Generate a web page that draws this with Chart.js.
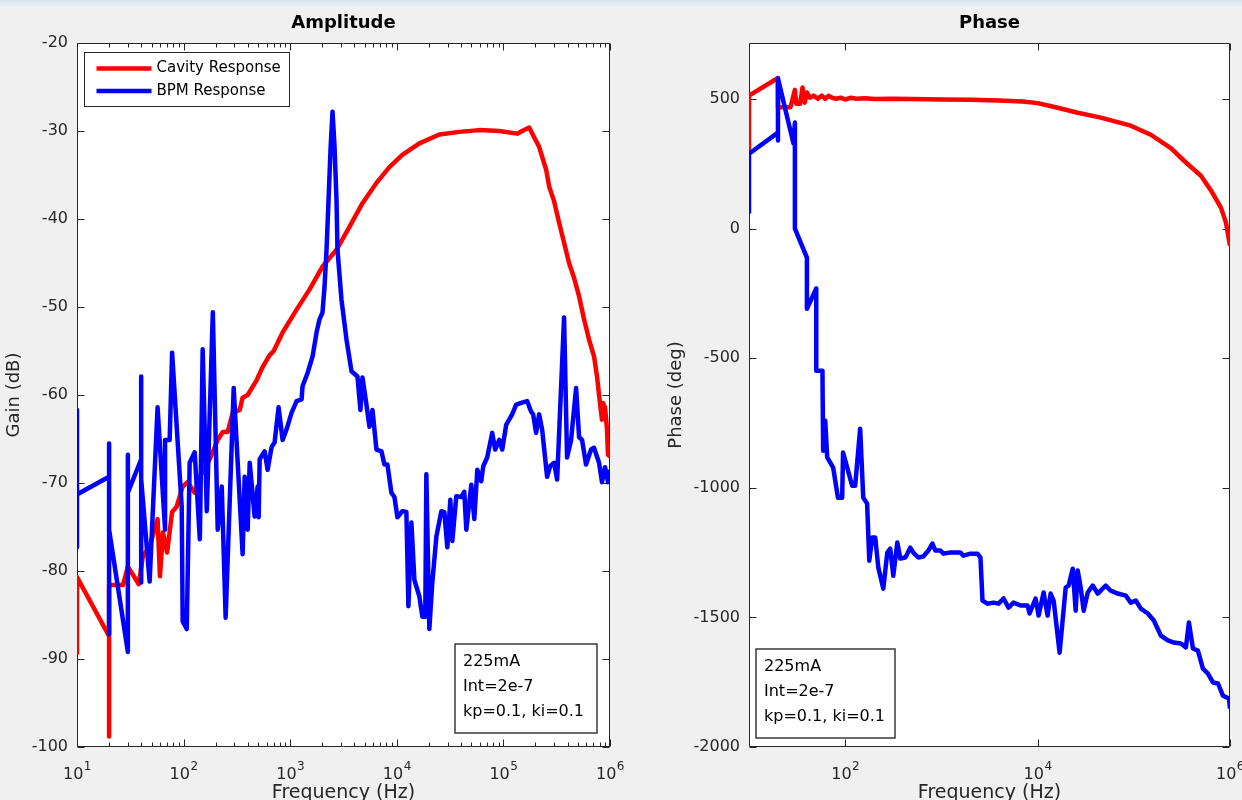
<!DOCTYPE html>
<html><head><meta charset="utf-8">
<script src="https://cdn.jsdelivr.net/npm/chart.js@4.4.1/dist/chart.umd.min.js"></script>
<style>
html,body{margin:0;padding:0;background:#f0f0f0;width:1242px;height:800px;overflow:hidden;}
#topbar{position:absolute;left:0;top:0;width:1242px;height:6px;background:linear-gradient(#d8e3f0,#e6edf5);}
#c1{position:absolute;left:0;top:0;}
#c2{position:absolute;left:620px;top:0;}
</style></head><body>
<div id="topbar"></div>
<canvas id="c1" width="640" height="800"></canvas>
<canvas id="c2" width="622" height="800"></canvas>
<script>
// ---------- DATA ----------
const seriesNames = ['Cavity Response', 'BPM Response'];
const noteLines = ['225mA', 'Int=2e-7', 'kp=0.1, ki=0.1'];

const ampXTicks = [10, 100, 1000, 10000, 100000, 1000000];
const ampXTickLabels = ['10^1', '10^2', '10^3', '10^4', '10^5', '10^6'];
const ampYTicks = [-100, -90, -80, -70, -60, -50, -40, -30, -20];
const phaseXTicks = [100, 10000, 1000000];
const phaseXTickLabels = ['10^2', '10^4', '10^6'];
const phaseYTicks = [-2000, -1500, -1000, -500, 0, 500];

const ampCavityFreq = [10,10,20,20,20,27,30,38,41.5,48,57,60,64,70,78,86,98,109,127,142,176,209,233,259,289,336,358,399,485,552,640,700,849,1148,1520,2010,2718,3597,4764,6442,8530,11270,16290,25060,38550,59300,91400,134600,150000,174600,194100,216300,251700,268500,299200,332800,370800,413000,460300,512900,571000,635700,708000,755500,805400,841000,860000,900000,937000,958000,1000000];
const ampCavityGain = [-89.5,-80.7,-87.4,-98.8,-81.6,-81.6,-79.5,-81.5,-78.3,-77.2,-74.1,-80.6,-75.6,-77.9,-73.3,-72.7,-70.4,-69.9,-71.1,-69.3,-67.3,-65.1,-64.2,-64.2,-62.0,-61.7,-60.3,-60.0,-58.3,-56.8,-55.5,-55.0,-52.9,-50.3,-48.0,-45.4,-43.5,-40.9,-38.2,-35.9,-34.1,-32.7,-31.4,-30.4,-30.1,-29.9,-30.0,-30.3,-30.0,-29.6,-30.7,-31.8,-34.4,-36.3,-38.0,-40.4,-42.7,-45.0,-46.7,-48.8,-51.4,-53.7,-55.6,-57.9,-60.9,-62.8,-60.9,-61.5,-63.9,-66.8,-67.0];

const ampBpmFreq = [10,10,10,20,20,20,20,30,30,30,40,40,40,40,48,57,67,67,74,78,96,98,107,114,127,142,151,165,188,209,228,248,295,358,374,399,417,464,495,506,517,576,614,669,714,778,849,925,1031,1148,1279,1306,1455,1622,1766,1884,2010,2099,2192,2290,2389,2495,2606,2718,2777,3029,3374,3758,4276,4560,4764,5190,5536,5913,6442,7178,7656,8166,8895,9506,10140,11270,12300,12850,13710,14620,16290,17380,18500,18930,20190,21540,23500,26180,27930,29790,31770,33190,36140,40270,42960,44870,50000,53350,56900,62000,64710,70500,78520,83750,91400,97500,106200,113300,120800,131800,146800,167100,182000,190100,202800,216300,230700,257000,274200,299200,319200,370800,395500,431500,480800,512900,547000,596000,664000,708000,789000,841000,898000,958000,1000000];
const ampBpmGain = [-61.7,-77.3,-71.3,-69.3,-65.5,-87.2,-75.3,-89.2,-66.8,-71.1,-67.3,-57.9,-81.3,-69.6,-81.2,-61.4,-75.3,-65.1,-65.1,-55.2,-72.7,-85.7,-86.6,-67.7,-66.5,-76.4,-54.8,-73.2,-50.6,-75.3,-70.4,-85.3,-59.2,-78.1,-69.3,-75.3,-67.7,-73.8,-70.4,-73.9,-67.3,-66.4,-68.5,-65.9,-65.4,-61.4,-65.1,-63.9,-62.0,-60.7,-60.5,-59.0,-57.5,-55.6,-52.9,-51.4,-50.6,-47.7,-43.5,-37.8,-32.1,-27.8,-31.8,-37.8,-43.5,-49.2,-53.7,-57.3,-57.9,-61.7,-58.0,-61.1,-63.6,-61.7,-66.2,-66.4,-67.9,-67.9,-71.1,-71.6,-73.9,-73.2,-73.3,-84.0,-74.5,-81.0,-82.9,-85.2,-85.2,-69.0,-86.6,-81.3,-76.1,-73.2,-73.3,-77.3,-71.9,-76.6,-71.5,-71.6,-71.0,-75.3,-70.2,-74.1,-68.5,-69.8,-68.1,-67.1,-64.3,-66.2,-65.1,-66.2,-63.4,-62.8,-62.2,-61.1,-60.9,-60.7,-61.9,-62.2,-64.3,-62.2,-63.9,-69.3,-68.1,-67.7,-69.6,-51.2,-67.1,-65.1,-59.2,-64.8,-65.1,-67.9,-66.2,-66.0,-67.7,-69.9,-68.2,-69.9,-68.5];

const phaseCavityFreq = [10,10,20,20,27,30,31,34,36,38,40,43,47,52,57,62,67,73,80,90,100,115,130,160,200,300,500,1000,2000,4000,7000,10000,15780,25470,45300,93100,150300,242700,348000,499000,634000,805000,908000,1000000];
const phaseCavityDeg = [294,513,581,468,468,535,482,482,544,486,525,505,513,501,513,500,512,505,501,505,498,505,501,503,500,501,500,498,497,494,490,484,467,448,428,397,362,310,255,204,147,81,23,-66];

const phaseBpmFreq = [10,10,20,20,20,29,30,30,40,40,50,50,58,59,62,65,75,84,93,95,105,118,127,143,154,169,178,191,205,221,249,274,294,316,348,374,422,475,511,576,649,732,806,866,977,1049,1241,1577,1694,2005,2371,2548,2674,3013,3481,3924,4425,4989,5623,6651,7866,8254,9532,10240,11550,12710,13650,14680,16940,19580,21030,23170,24880,26100,28050,30130,33180,37410,42170,51070,57540,68100,82540,93060,104900,118300,139900,161600,191000,226000,261000,309000,348000,374000,412000,464000,523000,590000,665000,750000,845000,977000,1000000];
const phaseBpmDeg = [58,289,370,340,579,328,409,0,-112,-309,-231,-548,-548,-857,-741,-883,-922,-1038,-1038,-864,-922,-992,-992,-772,-1038,-1061,-1281,-1192,-1192,-1308,-1389,-1250,-1235,-1339,-1211,-1273,-1269,-1231,-1250,-1269,-1265,-1242,-1215,-1242,-1242,-1254,-1250,-1250,-1262,-1254,-1254,-1269,-1435,-1447,-1443,-1447,-1427,-1462,-1443,-1454,-1454,-1485,-1427,-1493,-1404,-1493,-1408,-1435,-1636,-1385,-1377,-1312,-1474,-1319,-1385,-1474,-1404,-1377,-1408,-1377,-1397,-1408,-1416,-1443,-1435,-1466,-1485,-1512,-1570,-1589,-1597,-1601,-1616,-1520,-1620,-1628,-1698,-1717,-1751,-1755,-1802,-1813,-1852];

// ---------- HELPERS ----------
const FONT = '"DejaVu Sans", "Liberation Sans", sans-serif';
const AXIS_COLOR = '#262626';
const toPoints = (xs, ys) => xs.map((x, i) => ({x: x, y: ys[i]}));

const matlabAxes = {
  id: 'matlabAxes',
  beforeDatasetsDraw(chart, args, o) {
    const {ctx, chartArea: a, scales: {x, y}} = chart;
    ctx.save();
    ctx.fillStyle = '#ffffff';
    ctx.fillRect(a.left, a.top, a.right - a.left, a.bottom - a.top);
    ctx.strokeStyle = AXIS_COLOR;
    ctx.lineWidth = 1;
    ctx.beginPath();
    const L = a.left + 0.5, R = a.right - 0.5, T = a.top + 0.5, B = a.bottom - 0.5;
    ctx.rect(L, T, R - L, B - T);
    o.xMajor.forEach(v => {
      const px = Math.round(x.getPixelForValue(v)) + 0.5;
      ctx.moveTo(px, B); ctx.lineTo(px, B - 7);
      ctx.moveTo(px, T); ctx.lineTo(px, T + 7);
    });
    if (o.xMinor) {
      for (let d = x.min; d < x.max; d *= 10) {
        for (let k = 2; k <= 9; k++) {
          const px = Math.round(x.getPixelForValue(k * d)) + 0.5;
          ctx.moveTo(px, B); ctx.lineTo(px, B - 4);
          ctx.moveTo(px, T); ctx.lineTo(px, T + 4);
        }
      }
    }
    o.yTicks.forEach(v => {
      const py = Math.round(y.getPixelForValue(v)) + 0.5;
      ctx.moveTo(L, py); ctx.lineTo(L + 7, py);
      ctx.moveTo(R, py); ctx.lineTo(R - 7, py);
    });
    ctx.stroke();
    // x tick labels 10^n
    ctx.fillStyle = AXIS_COLOR;
    ctx.textBaseline = 'alphabetic';
    ctx.textAlign = 'left';
    o.xLabelTicks.forEach((v, i) => {
      const parts = o.xLabels[i].split('^');
      ctx.font = '16px ' + FONT;
      const wb = ctx.measureText(parts[0]).width;
      ctx.font = '12px ' + FONT;
      const we = ctx.measureText(parts[1]).width;
      const px = x.getPixelForValue(v);
      const x0 = px - (wb + we) / 2;
      ctx.font = '16px ' + FONT;
      ctx.fillText(parts[0], x0, a.bottom + 32);
      ctx.font = '12px ' + FONT;
      ctx.fillText(parts[1], x0 + wb + 0.5, a.bottom + 23);
    });
    ctx.restore();
  },
  afterDatasetsDraw(chart, args, o) {
    const {ctx, chartArea: a} = chart;
    ctx.save();
    if (o.legend) {
      const lx = a.left + 7.5, ly = a.top + 9.5, lw = 205, lh = 54;
      ctx.fillStyle = '#ffffff';
      ctx.fillRect(lx, ly, lw, lh);
      ctx.strokeStyle = AXIS_COLOR; ctx.lineWidth = 1;
      ctx.strokeRect(lx, ly, lw, lh);
      ctx.font = '15px ' + FONT;
      ctx.textBaseline = 'middle'; ctx.textAlign = 'left';
      chart.data.datasets.forEach((ds, i) => {
        const yy = ly + 16 + i * 22.5;
        ctx.strokeStyle = ds.borderColor; ctx.lineWidth = 4.5;
        ctx.beginPath(); ctx.moveTo(lx + 12, yy); ctx.lineTo(lx + 67, yy); ctx.stroke();
        ctx.fillStyle = '#000';
        ctx.fillText(ds.label, lx + 72, yy);
      });
    }
    if (o.note) {
      const n = o.note;
      const bx = n.fromRight ? a.right - n.dx - n.w : a.left + n.dx;
      const by = a.bottom - n.dy - n.h;
      ctx.fillStyle = '#ffffff';
      ctx.fillRect(bx, by, n.w, n.h);
      ctx.strokeStyle = '#3a3a3a'; ctx.lineWidth = 1.5;
      ctx.strokeRect(bx, by, n.w, n.h);
      ctx.fillStyle = '#000';
      ctx.font = '16px ' + FONT;
      ctx.textBaseline = 'middle'; ctx.textAlign = 'left';
      noteLines.forEach((t, i) => ctx.fillText(t, bx + 8, by + 18 + i * 25));
    }
    ctx.restore();
  }
};

function makeChart(canvasId, c) {
  return new Chart(document.getElementById(canvasId), {
    type: 'line',
    data: {
      datasets: [
        {label: seriesNames[0], data: toPoints(c.cavX, c.cavY), borderColor: '#ff0000', order: 1},
        {label: seriesNames[1], data: toPoints(c.bpmX, c.bpmY), borderColor: '#0000ff', order: 0}
      ]
    },
    options: {
      responsive: false, animation: false, devicePixelRatio: 1, events: [],
      layout: {padding: {left: 0, right: c.padRight, top: 0, bottom: 0}},
      elements: {
        line: {borderWidth: 4.5, tension: 0, fill: false, borderJoinStyle: 'round', borderCapStyle: 'butt'},
        point: {radius: 0}
      },
      scales: {
        x: {
          type: 'logarithmic', min: 10, max: 1000000,
          ticks: {display: false},
          grid: {display: false, drawTicks: false},
          border: {display: false},
          title: {display: true, text: 'Frequency (Hz)', color: AXIS_COLOR,
                  font: {family: FONT, size: 19, lineHeight: 1}, padding: {top: 0, bottom: -3}},
          afterFit: s => { s.height = 53; }
        },
        y: {
          type: 'linear', min: c.yMin, max: c.yMax,
          afterBuildTicks: s => { s.ticks = c.yTicks.map(v => ({value: v})); },
          ticks: {color: AXIS_COLOR, font: {family: FONT, size: 16}, padding: 9, callback: v => String(v)},
          grid: {display: false, drawTicks: false},
          border: {display: false},
          title: {display: true, text: c.yTitle, color: AXIS_COLOR,
                  font: {family: FONT, size: 18, lineHeight: 1}, padding: {top: c.yTitlePad, bottom: 0}},
          afterFit: s => { s.width = c.yWidth; }
        }
      },
      plugins: {
        legend: {display: false},
        tooltip: {enabled: false},
        title: {display: true, text: c.title, fullSize: false, color: '#000',
                font: {family: FONT, size: 18, weight: 'bold', lineHeight: 1.2},
                padding: {top: 13, bottom: 8.4}},
        matlabAxes: {xMajor: c.xMajor, xMinor: c.xMinor, yTicks: c.yTicks,
                     xLabelTicks: c.xMajorLabelled, xLabels: c.xLabels, legend: c.legend, note: c.note}
      }
    },
    plugins: [matlabAxes]
  });
}

makeChart('c1', {
  cavX: ampCavityFreq, cavY: ampCavityGain, bpmX: ampBpmFreq, bpmY: ampBpmGain,
  padRight: 30, yMin: -100, yMax: -20, yTicks: ampYTicks, yTitle: 'Gain (dB)', yTitlePad: 5, yWidth: 77,
  title: 'Amplitude', xMajor: ampXTicks, xMinor: true, xMajorLabelled: ampXTicks, xLabels: ampXTickLabels,
  legend: true, note: {fromRight: true, dx: 13, dy: 14, w: 142, h: 89}
});
makeChart('c2', {
  cavX: phaseCavityFreq, cavY: phaseCavityDeg, bpmX: phaseBpmFreq, bpmY: phaseBpmDeg,
  padRight: 12, yMin: -2000, yMax: 716, yTicks: phaseYTicks, yTitle: 'Phase (deg)', yTitlePad: 47, yWidth: 129,
  title: 'Phase', xMajor: phaseXTicks, xMinor: false, xMajorLabelled: phaseXTicks, xLabels: phaseXTickLabels,
  legend: false, note: {fromRight: false, dx: 7, dy: 9, w: 139, h: 89}
});
</script>
</body></html>
